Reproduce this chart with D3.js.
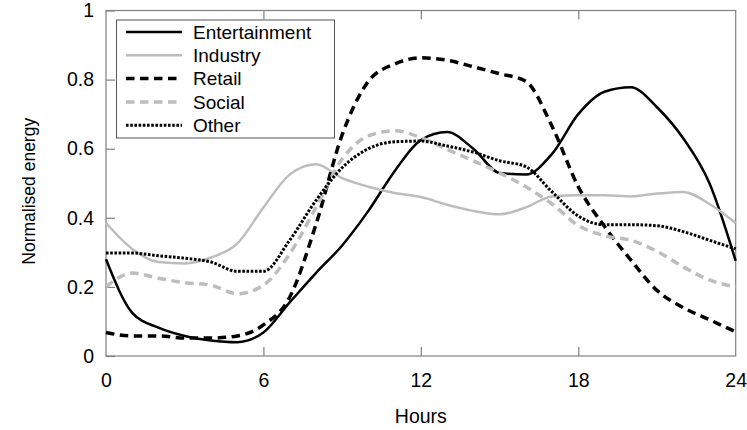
<!DOCTYPE html>
<html>
<head>
<meta charset="utf-8">
<script src="https://cdn.jsdelivr.net/npm/d3@7"></script>
<style>
  html, body { margin: 0; padding: 0; background: #fff; }
  svg { display: block; font-family: "Liberation Sans", Arial, Helvetica, sans-serif; }
</style>
</head>
<body>
<svg id="chart" width="747" height="430"></svg>
<script>
// Hour of day, 0..24
const hours = [0,1,2,3,4,5,6,7,8,9,10,11,12,13,14,15,16,17,18,19,20,21,22,23,24];

// Normalised energy per sector
const entertainment = [0.28,0.125,0.082,0.058,0.045,0.040,0.068,0.155,0.24,0.32,0.42,0.535,0.625,0.648,0.60,0.53,0.525,0.585,0.70,0.765,0.778,0.72,0.63,0.50,0.275];
const industry      = [0.385,0.31,0.272,0.268,0.285,0.325,0.43,0.525,0.555,0.515,0.49,0.472,0.46,0.438,0.42,0.41,0.43,0.462,0.465,0.465,0.462,0.47,0.475,0.44,0.385];
const retail        = [0.068,0.058,0.058,0.052,0.052,0.058,0.09,0.17,0.38,0.64,0.795,0.845,0.863,0.856,0.837,0.817,0.795,0.665,0.49,0.375,0.278,0.19,0.14,0.105,0.07];
const social        = [0.2,0.24,0.225,0.212,0.205,0.18,0.205,0.295,0.43,0.57,0.637,0.652,0.632,0.598,0.565,0.53,0.49,0.44,0.378,0.348,0.335,0.303,0.258,0.22,0.2];
const other         = [0.298,0.298,0.29,0.283,0.272,0.245,0.245,0.335,0.45,0.545,0.60,0.62,0.622,0.608,0.59,0.565,0.548,0.475,0.405,0.38,0.38,0.377,0.36,0.335,0.31];

const seriesNames = ["Entertainment","Industry","Retail","Social","Other"];
const xTicks = [0,6,12,18,24];
const yTicks = [0,0.2,0.4,0.6,0.8,1];
const yTickLabels = ["0","0.2","0.4","0.6","0.8","1"];

const styles = {
  Entertainment: { color: "#000", width: 2.5, dash: null },
  Industry:      { color: "#bdbdbd", width: 2.5, dash: null },
  Retail:        { color: "#000", width: 3.5, dash: "8.5,5.5" },
  Social:        { color: "#bdbdbd", width: 3.5, dash: "8.5,5.5" },
  Other:         { color: "#000", width: 3, dash: "2.6,1.6" }
};

const seriesData = {
  Entertainment: entertainment,
  Industry: industry,
  Retail: retail,
  Social: social,
  Other: other
};

const svg = d3.select("#chart");
const plotLeft = 106, plotRight = 735.7, plotTop = 10.5, plotBottom = 356;

const x = d3.scaleLinear().domain([0, 24]).range([plotLeft, plotRight]);
const y = d3.scaleLinear().domain([0, 1]).range([plotBottom, plotTop]);

const axisColor = "#808080";
const fontSize = 19.5;

// Frame
svg.append("rect")
  .attr("x", plotLeft).attr("y", plotTop)
  .attr("width", plotRight - plotLeft).attr("height", plotBottom - plotTop)
  .attr("fill", "none").attr("stroke", axisColor).attr("stroke-width", 1.2);

// Bottom axis (inward ticks)
const xAxis = svg.append("g")
  .attr("transform", `translate(0,${plotBottom})`)
  .call(d3.axisBottom(x).tickValues(xTicks).tickSize(-9).tickPadding(17).tickFormat(d3.format("d")));
// Top ticks mirror the bottom ones
const xTop = svg.append("g")
  .attr("transform", `translate(0,${plotTop})`)
  .call(d3.axisTop(x).tickValues(xTicks).tickSize(-9).tickFormat(""));
// Left axis
const yAxis = svg.append("g")
  .attr("transform", `translate(${plotLeft},0)`)
  .call(d3.axisLeft(y).tickValues(yTicks).tickSize(-9).tickPadding(12)
    .tickFormat((d, i) => yTickLabels[i]));

[xAxis, xTop, yAxis].forEach(g => {
  g.select(".domain").remove();
  g.selectAll(".tick line").attr("stroke", axisColor).attr("stroke-width", 1.2);
  g.selectAll(".tick text")
    .attr("fill", "#000")
    .style("font-size", fontSize + "px")
    .style("font-family", "'Liberation Sans', Arial, sans-serif");
});
// Drop the end ticks that sit on the frame corners
xAxis.selectAll(".tick line").filter(d => d === 0 || d === 24).remove();
xTop.selectAll(".tick line").filter(d => d === 0 || d === 24).remove();

// Axis titles
svg.append("text")
  .attr("x", (plotLeft + plotRight) / 2).attr("y", 423)
  .attr("text-anchor", "middle")
  .style("font-size", fontSize + "px")
  .text("Hours");
svg.append("text")
  .attr("transform", `translate(35,${(plotTop + plotBottom) / 2 + 8}) rotate(-90)`)
  .attr("text-anchor", "middle")
  .style("font-size", "17.5px")
  .text("Normalised energy");

// Lines
const line = d3.line()
  .x((d, i) => x(hours[i]))
  .y(d => y(d))
  .curve(d3.curveMonotoneX);

const plot = svg.append("g");
seriesNames.forEach(name => {
  const s = styles[name];
  plot.append("path")
    .datum(seriesData[name])
    .attr("d", line)
    .attr("fill", "none")
    .attr("stroke", s.color)
    .attr("stroke-width", s.width)
    .attr("stroke-dasharray", s.dash)
    .attr("stroke-linejoin", "round");
});

// Legend
const legend = svg.append("g");
legend.append("rect")
  .attr("x", 116.5).attr("y", 20)
  .attr("width", 218).attr("height", 118)
  .attr("fill", "#fff").attr("stroke", "#555").attr("stroke-width", 1);
seriesNames.forEach((name, i) => {
  const s = styles[name];
  const ly = 32 + i * 23.3;
  legend.append("line")
    .attr("x1", 126).attr("x2", 182)
    .attr("y1", ly).attr("y2", ly)
    .attr("stroke", s.color)
    .attr("stroke-width", s.width)
    .attr("stroke-dasharray", s.dash);
  legend.append("text")
    .attr("x", 193).attr("y", ly)
    .attr("dy", "0.35em")
    .style("font-size", "19px")
    .text(name);
});
</script>
</body>
</html>
